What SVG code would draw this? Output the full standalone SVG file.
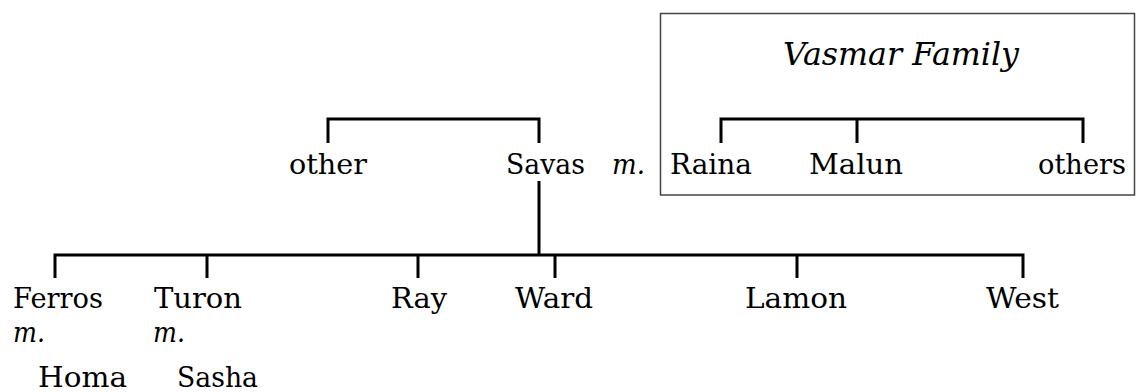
<svg xmlns="http://www.w3.org/2000/svg" width="1136" height="392" viewBox="0 0 1136 392">
<style>
text{font-family:"DejaVu Serif","Liberation Serif",serif;font-size:28px;fill:#000}
.it{font-style:italic}
.title{font-size:31px;font-style:italic}
.ln{stroke:#000;stroke-width:3;fill:none;stroke-linecap:butt}
.box{stroke:#444;stroke-width:1.5;fill:none}
</style>
<rect id="vasmar-box" class="box" x="660.5" y="13.5" width="474" height="181.5"/>
<g id="connectors">
<path class="ln" d="M328 143V119H539V143"/>
<path class="ln" d="M721 143V119H1083V143M857 119V143"/>
<path class="ln" d="M539 181V255M55 278V255H1023V278M207 255V278M418 255V278M555 255V278M797 255V278"/>
</g>
<g id="title"><text class="title" x="783" y="65" textLength="236" lengthAdjust="spacingAndGlyphs">Vasmar Family</text></g>
<g id="other"><text x="289" y="174" textLength="78" lengthAdjust="spacingAndGlyphs">other</text></g>
<g id="savas"><text x="506" y="174" textLength="79" lengthAdjust="spacingAndGlyphs">Savas</text><text class="it" x="612" y="174" textLength="33" lengthAdjust="spacingAndGlyphs">m.</text></g>
<g id="raina"><text x="670" y="174" textLength="82" lengthAdjust="spacingAndGlyphs">Raina</text></g>
<g id="malun"><text x="809" y="174" textLength="94" lengthAdjust="spacingAndGlyphs">Malun</text></g>
<g id="others"><text x="1038" y="174" textLength="88" lengthAdjust="spacingAndGlyphs">others</text></g>
<g id="ferros"><text x="13" y="308" textLength="90" lengthAdjust="spacingAndGlyphs">Ferros</text><text class="it" x="13" y="342" textLength="32" lengthAdjust="spacingAndGlyphs">m.</text><text x="38" y="387" textLength="89" lengthAdjust="spacingAndGlyphs">Homa</text></g>
<g id="turon"><text x="154" y="308" textLength="88" lengthAdjust="spacingAndGlyphs">Turon</text><text class="it" x="153" y="342" textLength="32" lengthAdjust="spacingAndGlyphs">m.</text><text x="177" y="387" textLength="81" lengthAdjust="spacingAndGlyphs">Sasha</text></g>
<g id="ray"><text x="391" y="308" textLength="56" lengthAdjust="spacingAndGlyphs">Ray</text></g>
<g id="ward"><text x="515" y="308" textLength="78" lengthAdjust="spacingAndGlyphs">Ward</text></g>
<g id="lamon"><text x="745" y="308" textLength="102" lengthAdjust="spacingAndGlyphs">Lamon</text></g>
<g id="west"><text x="986" y="308" textLength="73" lengthAdjust="spacingAndGlyphs">West</text></g>
</svg>
